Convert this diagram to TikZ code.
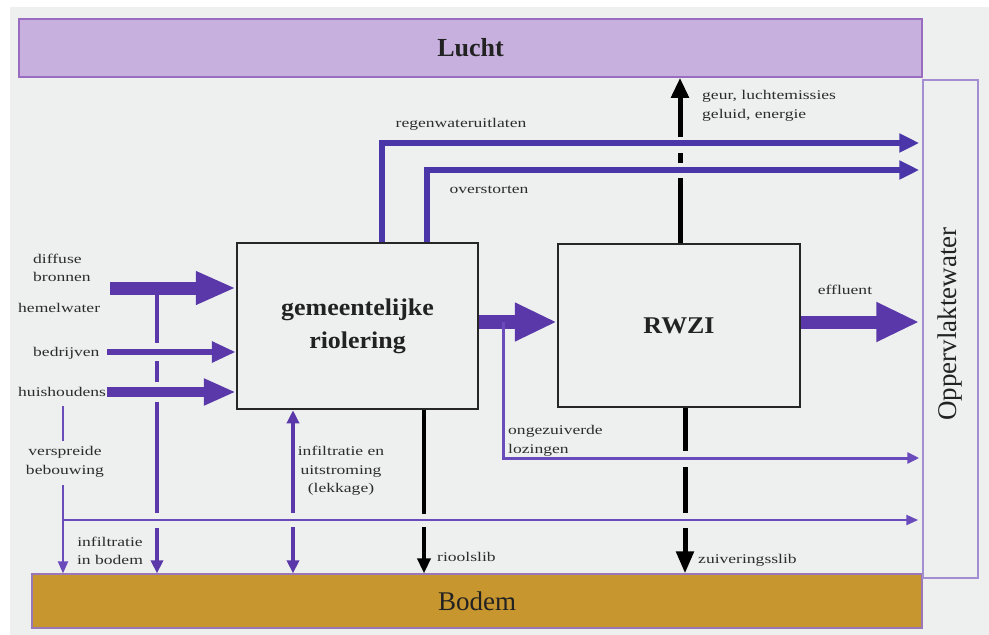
\documentclass[tikz,border=0pt]{standalone}
\usepackage{fontspec}
\setmainfont{Liberation Serif}
\newfontfamily\lblfont[FakeStretch=1.32]{Liberation Serif}
\newfontfamily\bigfont[FakeStretch=1.08]{Liberation Serif}
\usetikzlibrary{arrows.meta}
\definecolor{bgc}{HTML}{EEF0F0}
\definecolor{luchtc}{HTML}{C8B0DE}
\definecolor{luchtb}{HTML}{9A6CC0}
\definecolor{bodemc}{HTML}{C8962E}
\definecolor{bodemb}{HTML}{9A78B8}
\definecolor{fatc}{HTML}{5A38AA}
\definecolor{pipec}{HTML}{4A36A8}
\definecolor{thinc}{HTML}{6A4BBC}
\definecolor{oppc}{HTML}{A48ED2}
\definecolor{txtc}{HTML}{2C2C2C}
\definecolor{bigtxt}{HTML}{222222}
\begin{document}
\begin{tikzpicture}[x=1pt,y=-1pt,
  lbl/.style={font=\lblfont\fontsize{13.3}{18.5}\selectfont, text=txtc, inner sep=0pt},
  bigl/.style={font=\bigfont\bfseries\fontsize{24}{33}\selectfont, text=bigtxt},
  box/.style={draw=black!85, line width=2.5pt, fill=bgc, inner sep=0pt},
  fatA/.style={draw=fatc, line width=13pt, -{Triangle[width=31pt,length=40pt]}},
  medA/.style={draw=fatc, line width=10pt, -{Triangle[width=25pt,length=32pt]}},
  thinA/.style={draw=fatc, line width=6pt, -{Triangle[width=20pt,length=24pt]}},
  pipe/.style={draw=pipec, line width=6pt, line join=miter, -{Triangle[width=18pt,length=20pt]}},
  thinl/.style={draw=thinc, line width=2.5pt},
  thinA2/.style={thinl, -{Triangle[width=10pt,length=12pt]}},
  hemel/.style={draw=fatc, line width=3.5pt},
  hemelA/.style={hemel, -{Triangle[width=12pt,length=13pt]}},
  hemelAb/.style={hemel, {Triangle[width=12pt,length=13pt]}-},
  blk/.style={draw=black, line width=3.5pt},
  blkA/.style={blk, -{Triangle[width=13pt,length=15pt]}},
  blkk/.style={draw=black, line width=5pt},
  blkkA/.style={blkk, -{Triangle[width=17pt,length=22pt]}}
]
\useasboundingbox (0,0) rectangle (989,635);
\fill[white] (0,0) rectangle (989,635);
\fill[bgc] (10,7) rectangle (989,635);

% environment boxes
\node[draw=luchtb, fill=luchtc, line width=1.5pt, minimum width=903pt, minimum height=58pt,
      font=\bfseries\fontsize{26}{30}\selectfont, text=bigtxt] (lucht) at (470.5,48) {Lucht};
\node[draw=bodemb, fill=bodemc, line width=1.2pt, minimum width=890pt, minimum height=54pt,
      font=\fontsize{27}{30}\selectfont, text=bigtxt] (bodem) at (477,601) {Bodem};
\node[draw=oppc, line width=1.5pt, minimum width=55pt, minimum height=498pt] (opp) at (950.5,329) {};
\node[rotate=90, font=\fontsize{27}{30}\selectfont, text=bigtxt] (oppt) at (950,324) {Oppervlaktewater};

% process boxes
\node[box, minimum width=241pt, minimum height=166pt, bigl, align=center] (gem) at (357.5,326)
  {gemeentelijke\\riolering};
\node[box, minimum width=242pt, minimum height=163pt, bigl] (rwzi) at (679,325.5) {RWZI};

% input arrows
\coordinate (dS) at (110,288);
\coordinate (bS) at (107,352);
\coordinate (hS) at (107,392);
\draw[fatA] (dS) -- (dS -| gem.west);
\draw[thinA] (bS) -- (bS -| gem.west);
\draw[medA] (hS) -- (hS -| gem.west);

% gem -> rwzi, rwzi -> opp
\coordinate (gS) at (478,322);
\draw[draw=fatc, line width=14pt, -{Triangle[width=36pt,length=42pt]}] (gS -| gem.east) -- (gS -| rwzi.west);
\coordinate (eS) at (800,322);
\draw[draw=fatc, line width=13pt, -{Triangle[width=37pt,length=43pt]}, shorten >=3pt] (eS -| rwzi.east) -- (eS -| opp.west);

% regenwateruitlaten / overstorten
\coordinate (rwT) at (381.5,143);
\coordinate (ovT) at (426.5,170);
\draw[pipe, shorten >=3pt] (rwT |- gem.north) -- (rwT) -- (rwT -| opp.west);
\draw[pipe, shorten >=3pt] (ovT |- gem.north) -- (ovT) -- (ovT -| opp.west);

% ongezuiverde lozingen
\coordinate (ozT) at (503,322);
\coordinate (ozB) at (503,458);
\draw[thinl, line width=3pt, line join=miter, -{Triangle[width=11pt,length=12pt]}, shorten >=3pt]
  (ozT) -- (ozB) -- (ozB -| opp.west);

% horizontal line at 520 from verspreide bebouwing
\coordinate (vbL) at (63,520);
\draw[thinA2, shorten >=4pt] (vbL) -- (vbL -| opp.west);

% verspreide bebouwing vertical
\coordinate (vbT) at (63,406);
\draw[thinl, line width=2pt] (vbT) -- (63,441);
\draw[thinl, line width=2pt, -{Triangle[width=10pt,length=12pt]}] (63,485) -- (vbT |- bodem.north);

% hemelwater vertical
\coordinate (hw) at (157,295);
\draw[hemel] (hw) -- (157,343);
\draw[hemel] (157,361) -- (157,382);
\draw[hemel] (157,402) -- (157,513);
\draw[hemelA] (157,528) -- (hw |- bodem.north);

% infiltratie en uitstroming (double)
\coordinate (inf) at (293,409);
\draw[hemelAb] (inf |- gem.south) -- (293,513);
\draw[hemelA] (293,527) -- (inf |- bodem.north);

% rioolslib
\coordinate (rs) at (424,409);
\draw[blk] (rs |- gem.south) -- (424,514);
\draw[blkA] (424,527) -- (rs |- bodem.north);

% zuiveringsslib
\coordinate (zs) at (685,407);
\draw[blkk] (zs |- rwzi.south) -- (685,451);
\draw[blkk] (685,467) -- (685,513);
\draw[blkkA] (685,528) -- (zs |- bodem.north);

% geur etc.
\coordinate (gu) at (680,244);
\draw[blkk] (gu |- rwzi.north) -- (680,178);
\draw[blkk] (680,163) -- (680,153);
\draw[blk, line width=5pt, -{Triangle[width=17pt,length=20pt]}] (680,137) -- (gu |- lucht.south);

% labels
\node[lbl, anchor=west, align=left] (l1) at (33,268) {diffuse\\bronnen};
\node[lbl, anchor=west] (l2) at (18,308) {hemelwater};
\node[lbl, anchor=west] (l3) at (33,353) {bedrijven};
\node[lbl, anchor=west] (l4) at (18,392) {huishoudens};
\node[lbl, align=center] (l5) at (65,462) {verspreide\\bebouwing};
\node[lbl, align=center] (l6) at (110,551) {infiltratie\\in bodem};
\node[lbl, align=center] (l7) at (341,471) {infiltratie en\\uitstroming\\(lekkage)};
\node[lbl, anchor=west] (l8) at (437,557) {rioolslib};
\node[lbl, anchor=west] (l9) at (698,560) {zuiveringsslib};
\node[lbl, anchor=west, align=left] (l10) at (508,441) {ongezuiverde\\lozingen};
\node[lbl] (l11) at (461,124) {regenwateruitlaten};
\node[lbl] (l12) at (489,190) {overstorten};
\node[lbl, anchor=west, align=left] (l13) at (702,106) {geur, luchtemissies\\geluid, energie};
\node[lbl] (l14) at (845,290) {effluent};
\end{tikzpicture}
\end{document}
